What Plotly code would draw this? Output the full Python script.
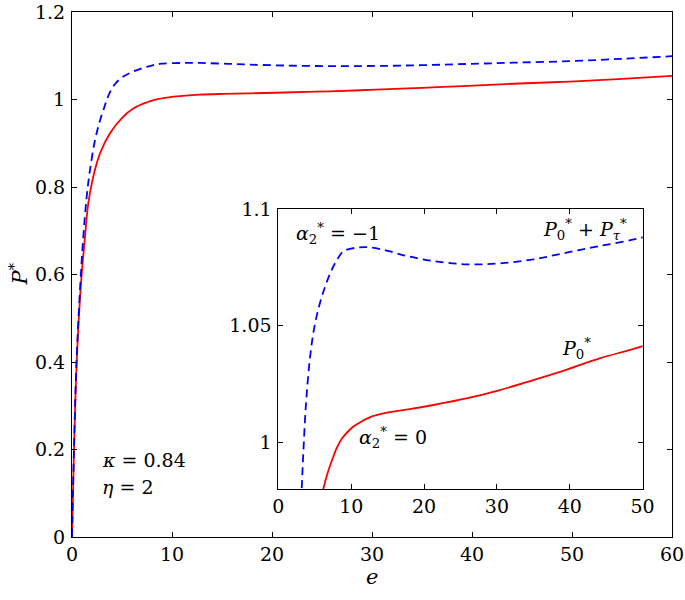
import plotly.graph_objects as go

# ---- data ----
e_p0 = [0, 0.2, 0.47, 0.9, 1.3, 1.63, 2.13, 2.8, 3.8, 5.13, 6.17, 6.82, 7.5, 8.0, 8.7,
        9.83, 10.5, 12.76, 15.05, 17.8, 21.3, 25.8, 30.4, 35.0, 39.6, 44.1, 49.8, 55, 60]
p0 = [0, 0.2, 0.4, 0.58, 0.686, 0.763, 0.824, 0.877, 0.923, 0.961, 0.98, 0.9875,
      0.9935, 0.9975, 1.0015, 1.0055, 1.0072, 1.011, 1.0128, 1.0141, 1.016, 1.0188,
      1.0224, 1.0267, 1.0312, 1.036, 1.041, 1.047, 1.054]

e_ptot = [0, 0.2, 0.45, 0.8, 1.13, 1.47, 1.8, 2.3, 2.8, 3.2, 3.43, 3.8, 4.35, 5.03,
          5.95, 7.09, 7.96, 8.92, 10.93, 12.76, 15.05, 17.56, 21.26, 25.8, 30.4, 35.0,
          39.56, 44.1, 49.85, 55, 60]
ptot = [0, 0.2, 0.4, 0.565, 0.686, 0.778, 0.839, 0.907, 0.952, 0.98, 0.996, 1.017,
        1.0366, 1.0509, 1.0623, 1.0723, 1.0777, 1.0818, 1.0835, 1.0835, 1.082, 1.0799,
        1.0777, 1.0763, 1.0767, 1.0784, 1.0813, 1.0841, 1.0877, 1.093, 1.099]

main_xticks = [0, 10, 20, 30, 40, 50, 60]
main_yticks = [0, 0.2, 0.4, 0.6, 0.8, 1.0, 1.2]
main_yticktext = ["0", "0.2", "0.4", "0.6", "0.8", "1", "1.2"]
inset_xticks = [0, 10, 20, 30, 40, 50]
inset_yticks = [1.0, 1.05, 1.1]
inset_yticktext = ["1", "1.05", "1.1"]

FONT = "DejaVu Serif"
RED = "#ff0000"
BLUE = "#0000ff"

fig = go.Figure()
for xa, ya in [("x", "y"), ("x2", "y2")]:
    fig.add_trace(go.Scatter(x=e_p0, y=p0, mode="lines", xaxis=xa, yaxis=ya,
                             line=dict(color=RED, width=1.8, shape="spline", smoothing=1.0),
                             showlegend=False, hoverinfo="skip"))
    fig.add_trace(go.Scatter(x=e_ptot, y=ptot, mode="lines", xaxis=xa, yaxis=ya,
                             line=dict(color=BLUE, width=1.8, dash="8px,5px",
                                       shape="spline", smoothing=1.0),
                             showlegend=False, hoverinfo="skip"))

axis_common = dict(showline=True, mirror="allticks", linecolor="black", linewidth=1,
                   ticks="inside", ticklen=5, tickcolor="black", tickwidth=1,
                   showgrid=False, zeroline=False, automargin=False,
                   ticklabeloverflow="allow",
                   tickfont=dict(family=FONT, size=19, color="black"))

fig.update_layout(
    width=685, height=600,
    margin=dict(l=72, r=13, t=12, b=63),
    paper_bgcolor="white", plot_bgcolor="white",
    font=dict(family=FONT, size=19, color="black"),
    xaxis=dict(range=[0, 60], tickvals=main_xticks, domain=[0, 1], **axis_common),
    yaxis=dict(range=[0, 1.2], tickvals=main_yticks, ticktext=main_yticktext, domain=[0, 1],
               ticklabelstandoff=2, **axis_common),
    xaxis2=dict(range=[0, 50], tickvals=inset_xticks, domain=[0.344, 0.951], anchor="y2",
                **axis_common),
    yaxis2=dict(range=[0.98, 1.1], tickvals=inset_yticks, ticktext=inset_yticktext,
                domain=[0.0914, 0.6248], anchor="x2", ticklabelstandoff=2, **axis_common),
)

ann = [
    dict(text="<i>e</i>", x=0.5, y=-0.076, xanchor="center", yanchor="middle", size=21),
    dict(text="<i>P</i><sup>*</sup>", x=-0.09, y=0.5, xanchor="center", yanchor="middle",
         size=21, textangle=-90),
    dict(text="<i>κ</i> = 0.84", x=0.047, y=0.147, xanchor="left", yanchor="middle"),
    dict(text="<i>η</i> = 2", x=0.047, y=0.095, xanchor="left", yanchor="middle"),
    dict(text="<i>α</i><sub>2</sub><sup>*</sup> = −1", x=0.37, y=0.579, xanchor="left", yanchor="middle"),
    dict(text="<i>P</i><sub>0</sub><sup>*</sup> + <i>P</i><sub><i>τ</i></sub><sup>*</sup>",
         x=0.928, y=0.585, xanchor="right", yanchor="middle"),
    dict(text="<i>P</i><sub>0</sub><sup>*</sup>", x=0.813, y=0.36, xanchor="left", yanchor="middle"),
    dict(text="<i>α</i><sub>2</sub><sup>*</sup> = 0", x=0.475, y=0.19, xanchor="left", yanchor="middle"),
]
for a in ann:
    size = a.pop("size", 19)
    fig.add_annotation(xref="paper", yref="paper", showarrow=False,
                       font=dict(family=FONT, size=size, color="black"), **a)

# remove the page's default body margin so the figure sits at the window's corner
fig.write_html("out.html", config={"displayModeBar": False},
               post_script="document.body.style.margin='0px';")
